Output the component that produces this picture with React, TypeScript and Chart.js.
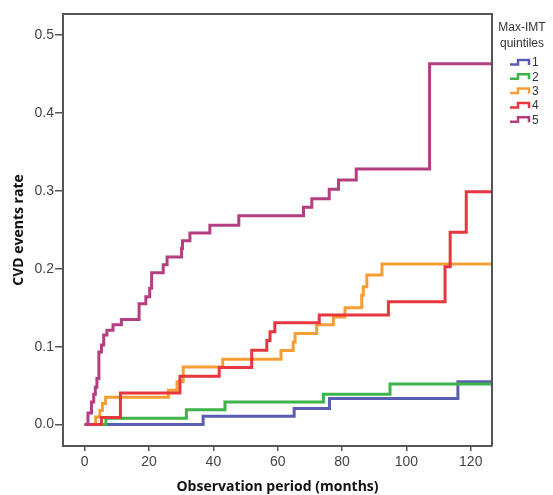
import React, { useEffect, useRef } from "react";
import { Chart, registerables } from "chart.js";

Chart.register(...registerables);

// ---- data ----
const seriesLabels = ["1", "2", "3", "4", "5"];
const seriesColors = ["#5b5db2", "#3db44a", "#f69e34", "#e8363f", "#b33f80"];

const q1Times = [0, 36.8, 65.1, 76.1, 116.0, 126.6];
const q1Rates = [0, 0.0107, 0.0206, 0.0334, 0.055, 0.055];

const q2Times = [0, 6.6, 31.6, 43.6, 74.2, 94.9, 126.6];
const q2Rates = [0, 0.008, 0.019, 0.029, 0.039, 0.052, 0.052];

const q3Times = [0, 3.4, 4.7, 5.5, 6.5, 26.0, 28.7, 30.6, 42.9, 61.0, 64.8, 65.4, 72.1, 77.3, 80.9, 86.1, 86.6, 87.7, 92.4, 126.6];
const q3Rates = [0, 0.0098, 0.018, 0.027, 0.035, 0.044, 0.055, 0.074, 0.084, 0.095, 0.106, 0.117, 0.128, 0.138, 0.150, 0.166, 0.177, 0.192, 0.206, 0.206];

const q4Times = [0, 5.2, 11.1, 29.6, 41.8, 51.9, 56.6, 57.6, 59.1, 72.9, 94.4, 112.0, 113.6, 118.6, 126.6];
const q4Rates = [0, 0.009, 0.0406, 0.062, 0.0733, 0.0955, 0.108, 0.119, 0.1306, 0.1405, 0.1576, 0.2026, 0.247, 0.299, 0.299];

const q5Times = [0, 1.0, 2.1, 2.8, 3.3, 3.8, 4.4, 5.2, 5.9, 6.9, 8.8, 11.4, 16.9, 19.0, 20.2, 20.8, 24.4, 25.6, 30.1, 30.4, 32.7, 38.9, 47.9, 68.0, 70.6, 76.0, 78.9, 84.4, 107.2, 126.6];
const q5Rates = [0, 0.015, 0.029, 0.039, 0.048, 0.059, 0.093, 0.102, 0.115, 0.121, 0.128, 0.135, 0.155, 0.164, 0.175, 0.195, 0.205, 0.215, 0.226, 0.236, 0.246, 0.256, 0.268, 0.279, 0.290, 0.302, 0.314, 0.328, 0.463, 0.463];

const xTicks = [0, 20, 40, 60, 80, 100, 120];
const yTicks = [0, 0.1, 0.2, 0.3, 0.4, 0.5];

const legendTitle = ["Max-IMT", "quintiles"];
const xTitle = "Observation period (months)";
const yTitle = "CVD events rate";

const allTimes = [q1Times, q2Times, q3Times, q4Times, q5Times];
const allRates = [q1Rates, q2Rates, q3Rates, q4Rates, q5Rates];

const AXIS = "#555555";

const framePlugin = {
  id: "frameAndLegend",
  afterDraw(chart: any) {
    const { ctx, chartArea } = chart;
    const { left, right, top, bottom } = chartArea;
    ctx.save();
    ctx.strokeStyle = AXIS;
    ctx.lineWidth = 2;
    ctx.beginPath();
    ctx.moveTo(left, top);
    ctx.lineTo(right, top);
    ctx.lineTo(right, bottom);
    ctx.stroke();

    // legend
    const cx = right + 30;
    ctx.fillStyle = "#333";
    ctx.font = "12px 'Liberation Sans', Arial, sans-serif";
    ctx.textAlign = "center";
    ctx.textBaseline = "middle";
    ctx.fillText(legendTitle[0], cx, top + 14);
    ctx.fillText(legendTitle[1], cx, top + 29.5);
    ctx.textAlign = "left";
    for (let i = 0; i < seriesLabels.length; i++) {
      const y = top + 48 + i * 14.3;
      const x0 = right + 18;
      ctx.strokeStyle = seriesColors[i];
      ctx.lineWidth = 2.5;
      ctx.beginPath();
      ctx.moveTo(x0, y + 2.5);
      ctx.lineTo(x0 + 8, y + 2.5);
      ctx.lineTo(x0 + 8, y - 2);
      ctx.lineTo(x0 + 19, y - 2);
      ctx.lineTo(x0 + 19, y + 3);
      ctx.stroke();
      ctx.fillStyle = "#333";
      ctx.fillText(seriesLabels[i], x0 + 22, y + 1);
    }
    ctx.restore();
  },
};

export default function App() {
  const ref = useRef<HTMLCanvasElement | null>(null);

  useEffect(() => {
    if (!ref.current) return;
    const datasets = seriesLabels.map((label, i) => ({
      label,
      data: allTimes[i].map((t, j) => ({ x: t, y: allRates[i][j] })),
      borderColor: seriesColors[i],
      backgroundColor: seriesColors[i],
      borderWidth: 3,
      stepped: true as const,
      pointRadius: 0,
      fill: false,
      order: 5 - i,
      borderJoinStyle: "miter" as const,
    }));

    const chart = new Chart(ref.current, {
      type: "line",
      data: { datasets },
      plugins: [framePlugin],
      options: {
        animation: false,
        responsive: false,
        layout: { padding: { left: 0, right: 61, top: 14, bottom: 0 } },
        plugins: { legend: { display: false }, tooltip: { enabled: false } },
        scales: {
          x: {
            type: "linear",
            min: -6.75,
            max: 126.6,
            afterFit: (s: any) => {
              s.height = 49;
            },
            afterBuildTicks: (s: any) => {
              s.ticks = xTicks.map((v) => ({ value: v }));
            },
            ticks: {
              color: "#444",
              font: { family: "'Liberation Sans', Arial, sans-serif", size: 14 },
              padding: 3,
              maxRotation: 0,
              callback: (v: any) => String(v),
            },
            grid: {
              drawOnChartArea: false,
              drawTicks: true,
              tickLength: 5,
              color: AXIS,
              lineWidth: 1.5,
            },
            border: { display: true, color: AXIS, width: 2 },
            title: {
              display: true,
              text: xTitle,
              color: "#111",
              font: { family: "'Open Sans', sans-serif", size: 14, weight: "bold" },
              padding: { top: 0, bottom: 0 },
            },
          },
          y: {
            type: "linear",
            min: -0.0275,
            max: 0.527,
            afterFit: (s: any) => {
              s.width = 63;
            },
            afterBuildTicks: (s: any) => {
              s.ticks = yTicks.map((v) => ({ value: v }));
            },
            ticks: {
              color: "#444",
              font: { family: "'Liberation Sans', Arial, sans-serif", size: 14 },
              padding: 1,
              callback: (v: any) => Number(v).toFixed(1),
            },
            grid: {
              drawOnChartArea: false,
              drawTicks: true,
              tickLength: 8,
              color: AXIS,
              lineWidth: 1.5,
            },
            border: { display: true, color: AXIS, width: 2 },
            title: {
              display: true,
              text: yTitle,
              color: "#111",
              font: { family: "'Open Sans', sans-serif", size: 14, weight: "bold" },
              padding: { top: 11, bottom: 0 },
            },
          },
        },
      },
    });
    return () => chart.destroy();
  }, []);

  return (
    <div style={{ position: "fixed", left: 0, top: 0, width: 553, height: 495, background: "#fff" }}>
      <canvas ref={ref} width={553} height={495} />
    </div>
  );
}
